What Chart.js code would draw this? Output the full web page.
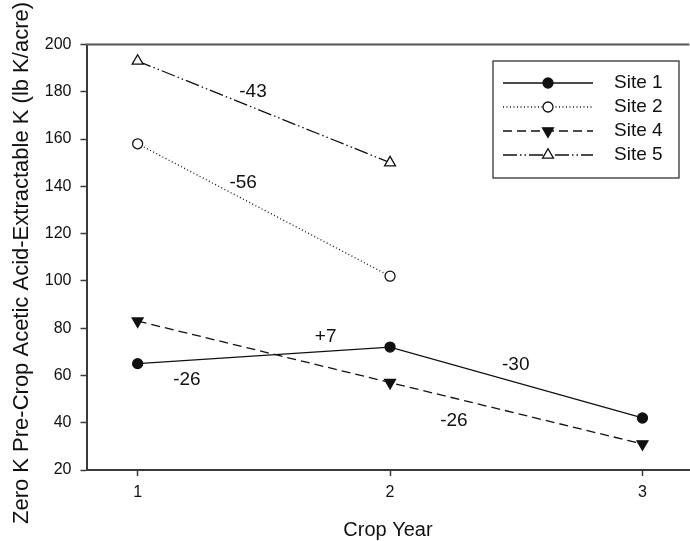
<!DOCTYPE html>
<html><head><meta charset="utf-8">
<script src="https://cdn.jsdelivr.net/npm/chart.js@4.4.1/dist/chart.umd.min.js"></script>
<style>html,body{margin:0;padding:0;background:#fff;overflow:hidden}#wrap{width:690px;height:541px;position:relative;overflow:hidden}#c{display:block}</style>
</head><body><div id="wrap"><canvas id="c" width="697" height="541"></canvas></div>
<script>
// ---- data ----
const cropYears = [1, 2, 3];
const site1 = [65, 72, 42];
const site2 = [158, 102, null];
const site4 = [83, 57, 31];
const site5 = [193, 150, null];
const seriesNames = ['Site 1', 'Site 2', 'Site 4', 'Site 5'];
const xTicks = [1, 2, 3];
const yTicks = [20, 40, 60, 80, 100, 120, 140, 160, 180, 200];
const changeLabels = ['-43', '-56', '+7', '-26', '-30', '-26'];
const changeX = [1.457, 1.418, 1.745, 1.195, 2.498, 2.253];
const changeY = [179.9, 141.5, 76.4, 58.3, 64.6, 41.0];
const yTitle = 'Zero K Pre-Crop Acetic Acid-Extractable K (lb K/acre)';
const xTitle = 'Crop Year';

const FONT = "'Liberation Sans', Arial, sans-serif";
const INK = '#111';
const AXIS = '#3a3a3a';

function pts(arr) {
  return cropYears.map((x, i) => ({ x: x, y: arr[i] })).filter(p => p.y !== null);
}

const styles = [
  { dash: [], point: 'circle', fill: true, rot: 0, r: 5 },
  { dash: [1, 2.5], point: 'circle', fill: false, rot: 0, r: 5 },
  { dash: [9, 5], point: 'triangle', fill: true, rot: 180, r: 6.3 },
  { dash: [14, 3, 1.5, 3, 1.5, 3], point: 'triangle', fill: false, rot: 0, r: 6.3 }
];
const seriesData = [site1, site2, site4, site5];

const datasets = seriesData.map((arr, i) => ({
  label: seriesNames[i],
  data: pts(arr),
  borderColor: INK,
  borderWidth: 1.3,
  borderDash: styles[i].dash,
  pointStyle: styles[i].point,
  pointRotation: styles[i].rot,
  pointRadius: styles[i].r,
  pointBorderWidth: 1.3,
  pointBorderColor: INK,
  pointBackgroundColor: styles[i].fill ? INK : '#fff',
  fill: false,
  tension: 0
}));

function drawMarker(ctx, st, x, y) {
  ctx.save();
  ctx.setLineDash([]);
  ctx.lineWidth = 1.3;
  ctx.strokeStyle = INK;
  ctx.fillStyle = st.fill ? INK : '#fff';
  ctx.beginPath();
  if (st.point === 'circle') {
    ctx.arc(x, y, st.r, 0, Math.PI * 2);
  } else {
    let rad = st.rot * Math.PI / 180;
    for (let k = 0; k < 3; k++) {
      const px = x + Math.sin(rad) * st.r, py = y - Math.cos(rad) * st.r;
      if (k === 0) ctx.moveTo(px, py); else ctx.lineTo(px, py);
      rad += 2 * Math.PI / 3;
    }
    ctx.closePath();
  }
  ctx.fill();
  ctx.stroke();
  ctx.restore();
}

const extras = {
  id: 'extras',
  afterDraw(chart) {
    const ctx = chart.ctx;
    const a = chart.chartArea;
    const xs = chart.scales.x, ys = chart.scales.y;
    ctx.save();
    // top frame line
    ctx.strokeStyle = '#555';
    ctx.lineWidth = 2;
    ctx.beginPath();
    ctx.moveTo(a.left - 1, a.top);
    ctx.lineTo(a.right, a.top);
    ctx.stroke();
    // y axis title
    ctx.save();
    ctx.translate(22, 263);
    ctx.rotate(-Math.PI / 2);
    ctx.fillStyle = INK;
    ctx.font = '22px ' + FONT;
    ctx.textAlign = 'center';
    ctx.textBaseline = 'middle';
    ctx.fillText(yTitle, 0, 0);
    ctx.restore();
    // change annotations
    ctx.fillStyle = INK;
    ctx.font = '19px ' + FONT;
    ctx.textAlign = 'center';
    ctx.textBaseline = 'middle';
    changeLabels.forEach((t, i) => {
      ctx.fillText(t, xs.getPixelForValue(changeX[i]), ys.getPixelForValue(changeY[i]));
    });
    // legend
    const bx = 493, by = 61, bw = 186, bh = 117;
    ctx.fillStyle = '#fff';
    ctx.fillRect(bx, by, bw, bh);
    ctx.strokeStyle = '#333';
    ctx.lineWidth = 1.3;
    ctx.strokeRect(bx, by, bw, bh);
    const rowY = [83, 107, 131, 155];
    chart.data.datasets.forEach((ds, i) => {
      const y = rowY[i];
      ctx.save();
      ctx.strokeStyle = INK;
      ctx.lineWidth = 1.3;
      ctx.setLineDash(styles[i].dash);
      ctx.beginPath();
      ctx.moveTo(503, y);
      ctx.lineTo(593, y);
      ctx.stroke();
      ctx.restore();
      drawMarker(ctx, styles[i], 548, y);
      ctx.fillStyle = INK;
      ctx.font = '19px ' + FONT;
      ctx.textAlign = 'left';
      ctx.textBaseline = 'middle';
      ctx.fillText(ds.label, 614, y);
    });
    ctx.restore();
  }
};

new Chart(document.getElementById('c'), {
  type: 'line',
  data: { datasets: datasets },
  options: {
    responsive: false,
    animation: false,
    devicePixelRatio: 1,
    layout: { padding: { top: 44.5, right: 0, left: 0, bottom: 0 } },
    plugins: { legend: { display: false }, tooltip: { enabled: false } },
    scales: {
      x: {
        type: 'linear',
        min: 0.7974,
        max: 3.186,
        afterBuildTicks: s => { s.ticks = xTicks.map(v => ({ value: v })); },
        afterFit: s => { s.height = 71; },
        grid: { drawOnChartArea: false, drawTicks: true, tickLength: 6, tickColor: AXIS, tickWidth: 1.5 },
        border: { display: true, color: AXIS, width: 2 },
        ticks: { color: INK, font: { family: FONT, size: 16 }, padding: 7, maxRotation: 0 },
        title: { display: true, text: xTitle, color: INK, font: { family: FONT, size: 20 }, padding: { top: 0, bottom: -1 } }
      },
      y: {
        type: 'linear',
        min: 20,
        max: 200,
        afterBuildTicks: s => { s.ticks = yTicks.map(v => ({ value: v })); },
        afterFit: s => { s.width = 86.5; },
        grid: { drawOnChartArea: false, drawTicks: true, tickLength: 6, tickColor: AXIS, tickWidth: 1.5 },
        border: { display: true, color: AXIS, width: 2 },
        ticks: { color: INK, font: { family: FONT, size: 16 }, padding: 9 },
        title: { display: false }
      }
    }
  },
  plugins: [extras]
});
</script>
</body></html>
